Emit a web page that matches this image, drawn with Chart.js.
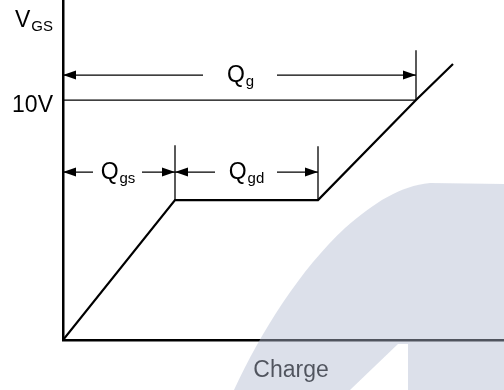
<!DOCTYPE html>
<html>
<head>
<meta charset="utf-8">
<script src="https://cdn.jsdelivr.net/npm/chart.js@4.4.1/dist/chart.umd.min.js"></script>
<style>
  html, body { margin: 0; padding: 0; background: #fff; }
  #wrap { width: 504px; height: 390px; }
</style>
</head>
<body>
<div id="wrap"><canvas id="gate_charge" width="504" height="390"></canvas></div>
<script>
// gate charge curve (x: charge, arbitrary units / y: gate voltage in V)
const charge = [0, 11.2, 25.5, 35.3, 39.0];
const vgs = [0, 5.83, 5.83, 10, 11.5];

const refLevel = 10;
const refEnd = 35.3;
const refLabel = '10V';

// dimension arrows: Qg, Qgs, Qgd
const dimSub = ['g', 'gs', 'gd'];
const dimStart = [0, 0, 11.2];
const dimEnd = [35.3, 11.2, 25.5];
const dimLevel = [11.04, 7.0, 7.0];
const dimGapFrom = [14.0, 3.0, 15.2];
const dimGapTo = [21.4, 7.9, 21.4];

// vertical extension lines
const extAt = [35.3, 11.2, 25.5];
const extFrom = [10, 5.83, 5.83];
const extTo = [12.08, 8.12, 8.08];

const xMax = 44.1;
const yMax = 14.17;
const xTitle = 'Charge';
const xTitleAt = 22.8;

const FONT = '"Liberation Sans", Arial, sans-serif';

const pts = (xs, ys) => xs.map((x, i) => ({ x: x, y: ys[i] }));

const thinLine = (data) => ({
    data: data,
    borderColor: '#000',
    borderWidth: 1.3,
    pointRadius: 0,
    spanGaps: false,
    fill: false
});

const datasets = [{
    data: pts(charge, vgs),
    borderColor: '#000',
    borderWidth: 2.2,
    pointRadius: 0,
    fill: false,
    tension: 0
}];

datasets.push(thinLine([{ x: 0, y: refLevel }, { x: refEnd, y: refLevel }]));

extAt.forEach((x, i) => {
    datasets.push(thinLine([{ x: x, y: extFrom[i] }, { x: x, y: extTo[i] }]));
});

dimSub.forEach((s, i) => {
    const lv = dimLevel[i];
    datasets.push(thinLine([
        { x: dimStart[i], y: lv },
        { x: dimGapFrom[i], y: lv },
        { x: dimGapFrom[i], y: null },
        { x: dimGapTo[i], y: lv },
        { x: dimEnd[i], y: lv }
    ]));
});

function subText(ctx, main, sub, x, y, mainSize, subSize, align) {
    ctx.font = mainSize + 'px ' + FONT;
    const w1 = ctx.measureText(main).width;
    ctx.font = subSize + 'px ' + FONT;
    const w2 = ctx.measureText(sub).width;
    let left = x;
    if (align === 'center') left = x - (w1 + w2) / 2;
    ctx.textAlign = 'left';
    ctx.textBaseline = 'alphabetic';
    ctx.font = mainSize + 'px ' + FONT;
    ctx.fillText(main, left, y);
    ctx.font = subSize + 'px ' + FONT;
    ctx.fillText(sub, left + w1 + 1, y + 4);
}

const gateLabels = {
    id: 'gateLabels',
    afterDatasetsDraw(chart) {
        const ctx = chart.ctx;
        const xs = chart.scales.x, ys = chart.scales.y;
        ctx.save();
        ctx.fillStyle = '#000';

        // arrow heads
        const head = (tipX, y, dir) => {
            ctx.beginPath();
            ctx.moveTo(tipX, y);
            ctx.lineTo(tipX - dir * 13, y - 4.5);
            ctx.lineTo(tipX - dir * 13, y + 4.5);
            ctx.closePath();
            ctx.fill();
        };
        dimSub.forEach((s, i) => {
            const y = ys.getPixelForValue(dimLevel[i]);
            head(xs.getPixelForValue(dimStart[i]), y, -1);
            head(xs.getPixelForValue(dimEnd[i]), y, 1);
            const cx = (xs.getPixelForValue(dimGapFrom[i]) + xs.getPixelForValue(dimGapTo[i])) / 2;
            subText(ctx, 'Q', s, cx, y + 7, 23, 15, 'center');
        });

        // axis labels
        const left = chart.chartArea.left;
        ctx.font = '23px ' + FONT;
        ctx.textAlign = 'right';
        ctx.textBaseline = 'alphabetic';
        ctx.fillText(refLabel, left - 10, ys.getPixelForValue(refLevel) + 12);
        subText(ctx, 'V', 'GS', 15, 27, 23, 15, 'left');

        ctx.font = '23px ' + FONT;
        ctx.textAlign = 'center';
        ctx.fillText(xTitle, xs.getPixelForValue(xTitleAt), 377);
        ctx.restore();
    },
    afterDraw(chart) {
        // faint logo watermark in the lower right
        const ctx = chart.ctx;
        ctx.save();
        ctx.fillStyle = 'rgba(178, 186, 208, 0.45)';
        ctx.beginPath();
        ctx.moveTo(234, 390);
        ctx.bezierCurveTo(262, 330, 300, 270, 345, 228);
        ctx.bezierCurveTo(375, 202, 400, 186, 430, 183);
        ctx.lineTo(504, 184);
        ctx.lineTo(504, 390);
        ctx.closePath();
        ctx.moveTo(350, 390);
        ctx.lineTo(398, 344);
        ctx.lineTo(408, 344);
        ctx.lineTo(408, 390);
        ctx.closePath();
        ctx.fill('evenodd');
        ctx.restore();
    }
};

const axisOpts = (max) => ({
    type: 'linear',
    min: 0,
    max: max,
    grid: { display: false, drawTicks: false },
    ticks: { display: false },
    border: { display: true, color: '#000', width: 2.5 }
});

new Chart(document.getElementById('gate_charge').getContext('2d'), {
    type: 'line',
    data: { datasets: datasets },
    options: {
        responsive: false,
        animation: false,
        layout: { padding: { left: 63, right: 0, top: 0, bottom: 50 } },
        plugins: { legend: { display: false }, tooltip: { enabled: false } },
        scales: { x: axisOpts(xMax), y: axisOpts(yMax) }
    },
    plugins: [gateLabels]
});
</script>
</body>
</html>
